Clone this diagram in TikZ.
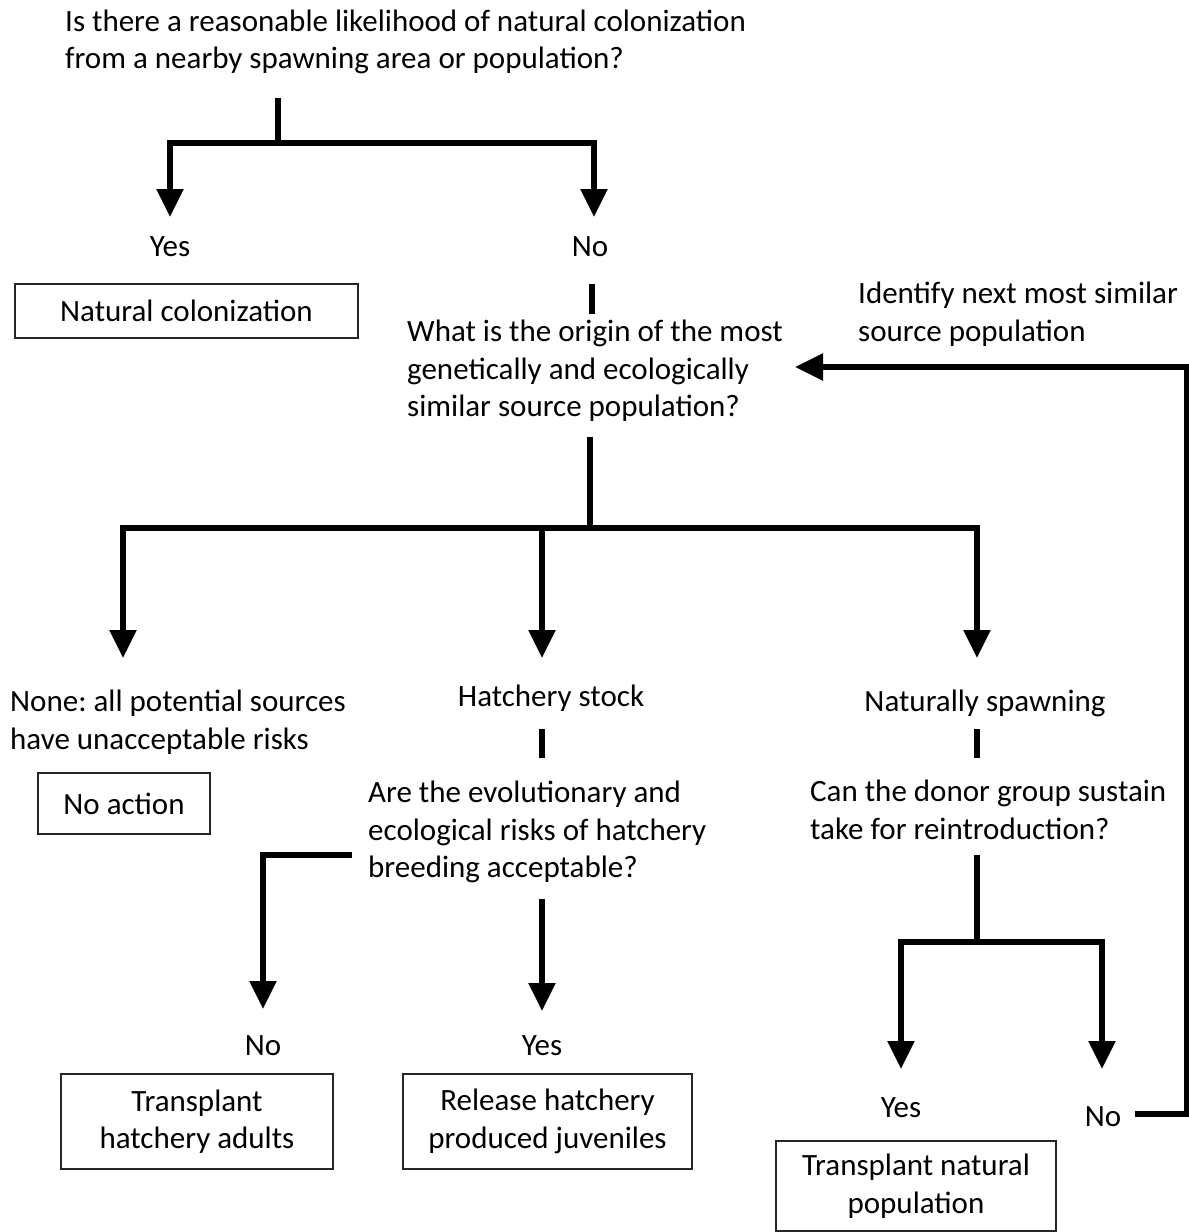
\documentclass[tikz,border=0pt]{standalone}
\usepackage{fontspec}
\setmainfont{Carlito}
\usetikzlibrary{arrows.meta}
\frenchspacing
\begin{document}
\begin{tikzpicture}[x=1pt,y=-1pt,
  ln/.style={line width=5.2pt},
  arr/.style={line width=5.2pt,-{Triangle[width=26pt,length=28pt]}},
  txt/.style={inner sep=0pt, font=\fontsize{31}{37.5}\selectfont, align=left},
  ctxt/.style={inner sep=0pt, font=\fontsize{31}{37.5}\selectfont, align=center},
  box/.style={draw=black!85, line width=2pt, inner sep=0pt, align=center,
    font=\fontsize{31}{37.5}\selectfont, anchor=north west}]
\useasboundingbox (0,0) rectangle (1189,1232);

% texts
\node[txt, anchor=west] (q1) at (65,42) {Is there a reasonable likelihood of natural colonization\\from a nearby spawning area or population?};
\node[ctxt] (yes1) at (170,247) {Yes};
\node[ctxt] (no1) at (590,247) {No};
\node[box, minimum width=343pt, minimum height=54pt] (natcol) at (14,283) {Natural colonization};
\node[txt, anchor=west] (q2) at (407,371) {What is the origin of the most\\genetically and ecologically\\similar source population?};
\node[txt, anchor=west] (ident) at (858,314) {Identify next most similar\\source population};
\node[txt, anchor=west] (none) at (10,722) {None: all potential sources\\have unacceptable risks};
\node[ctxt] (hatch) at (551,698) {Hatchery stock};
\node[ctxt] (natspawn) at (985,703) {Naturally spawning};
\node[box, minimum width=172pt, minimum height=61pt] (noaction) at (37,772) {No action};
\node[txt, anchor=west] (q3) at (368,832) {Are the evolutionary and\\ecological risks of hatchery\\breeding acceptable?};
\node[txt, anchor=west] (q4) at (810,810) {Can the donor group sustain\\take for reintroduction?};
\node[ctxt] (no2) at (263,1046) {No};
\node[ctxt] (yes2) at (542,1046) {Yes};
\node[box, minimum width=272pt, minimum height=95pt] (ta) at (60,1073) {Transplant\\hatchery adults};
\node[box, minimum width=289pt, minimum height=95pt] (rh) at (402,1073) {Release hatchery\\produced juveniles};
\node[ctxt] (yes3) at (901,1108) {Yes};
\node[ctxt] (no3) at (1103,1117) {No};
\node[box, minimum width=280pt, minimum height=90pt] (tn) at (775,1140) {Transplant natural\\population};

% junction coordinates
\coordinate (s1) at (278,98);
\coordinate (j1) at (278,143);
\coordinate (a1) at (170,217);
\coordinate (a2) at (594,217);
\coordinate (s2a) at (592,284);
\coordinate (s2b) at (592,314);
\coordinate (s3) at (590,437);
\coordinate (j2) at (590,528);
\coordinate (a3) at (123,658);
\coordinate (a4) at (542,658);
\coordinate (a5) at (977,658);
\coordinate (s4a) at (542,729);
\coordinate (s4b) at (542,758);
\coordinate (s5a) at (977,729);
\coordinate (s5b) at (977,758);
\coordinate (s6) at (352,855);
\coordinate (a6) at (263,1009);
\coordinate (s7) at (542,899);
\coordinate (a7) at (542,1011);
\coordinate (s8) at (977,855);
\coordinate (j3) at (977,942);
\coordinate (a8) at (901,1069);
\coordinate (a9) at (1102,1069);
\coordinate (fbr) at (1187,1114);
\coordinate (fbt) at (1187,367);
\coordinate (fb) at (795,367);

% connectors
\draw[ln] (s1) -- (j1);
\draw[arr] (j1) -| (a1);
\draw[arr] (j1) -| (a2);
\draw[ln] (s2a) -- (s2b);
\draw[ln] (s3) -- (j2);
\draw[arr] (j2) -| (a3);
\draw[arr] (j2) -| (a4);
\draw[arr] (j2) -| (a5);
\draw[ln] (s4a) -- (s4b);
\draw[ln] (s5a) -- (s5b);
\draw[arr] (s6) -| (a6);
\draw[arr] (s7) -- (a7);
\draw[ln] (s8) -- (j3);
\draw[arr] (j3) -| (a8);
\draw[arr] (j3) -| (a9);
\draw[arr] ([xshift=14pt]no3.east |- fbr) -- (fbr) -- (fbt) -- (fb);
\end{tikzpicture}
\end{document}
